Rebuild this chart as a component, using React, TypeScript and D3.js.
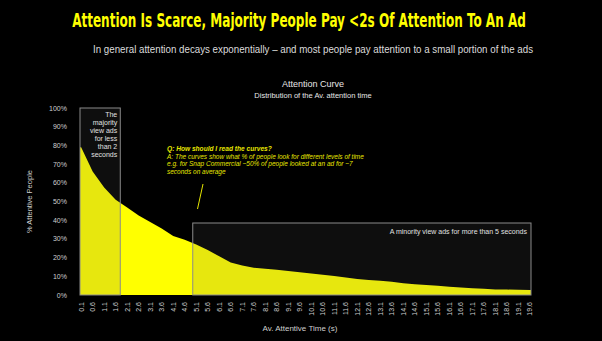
import React, { useLayoutEffect, useRef, useState } from "react";
import * as d3 from "d3";

const tickTimes = [
  0.1, 0.6, 1.1, 1.6, 2.1, 2.6, 3.1, 3.6, 4.1, 4.6,
  5.1, 5.6, 6.1, 6.6, 7.1, 7.6, 8.1, 8.6, 9.1, 9.6,
  10.1, 10.6, 11.1, 11.6, 12.1, 12.6, 13.1, 13.6, 14.1, 14.6,
  15.1, 15.6, 16.1, 16.6, 17.1, 17.6, 18.1, 18.6, 19.1, 19.6,
];
const attentive = [
  79, 66, 57.5, 51, 46.8, 42.5, 39, 35.5, 31.5, 29.5,
  27, 24, 20.7, 17.4, 15.8, 14.6, 14.1, 13.5, 12.9, 12.2,
  11.5, 10.8, 10.1, 9.4, 8.6, 8.0, 7.6, 7.1, 6.3, 5.8,
  5.4, 4.9, 4.4, 4.0, 3.6, 3.3, 3.0, 2.9, 2.8, 2.7,
];
const yTicks = [0, 10, 20, 30, 40, 50, 60, 70, 80, 90, 100];
const majorityBox = { from: 0.05, to: 1.8, top: 100 };
const minorityBox = { from: 4.95, to: 19.65, top: 38.5 };
const majorityLines = ["The", "majority", "view ads", "for less", "than 2", "seconds"];
const noteLines = [
  "A: The curves show what % of people look for different levels of time",
  "e.g. for Snap Commercial ~50% of people looked at an ad for ~7",
  "seconds on average",
];
const titleText = "Attention Is Scarce, Majority People Pay <2s Of Attention To An Ad";

const W = 602;
const H = 341;
const sans = "'Liberation Sans', Arial, Helvetica, sans-serif";
const TITLE_WIDTH = 454;

export default function App() {
  const titleRef = useRef<SVGTextElement>(null);
  const [titleScale, setTitleScale] = useState(0.66);

  useLayoutEffect(() => {
    const el = titleRef.current;
    if (el) {
      const w = el.getComputedTextLength();
      if (w > 0) setTitleScale(TITLE_WIDTH / w);
    }
  }, []);

  const x = d3.scaleLinear().domain([0.05, 19.65]).range([80, 531]);
  const y = d3.scaleLinear().domain([0, 100]).range([295, 108]);

  const pts = tickTimes.map((t, i) => ({ t, v: attentive[i] }));
  const areaData = [
    { t: x.domain()[0], v: attentive[0] },
    ...pts,
    { t: x.domain()[1], v: attentive[attentive.length - 1] },
  ];
  const area = d3
    .area<{ t: number; v: number }>()
    .x((d) => x(d.t))
    .y0(y(0))
    .y1((d) => y(d.v));

  const boxFill = "rgba(96,96,96,0.15)";
  const boxStroke = "#8a8a8a";

  return (
    <svg
      width={W}
      height={H}
      style={{ position: "absolute", left: 0, top: 0, background: "#000" }}
    >
      <rect x={0} y={0} width={W} height={H} fill="#000" />
      <g transform={`translate(299,27) scale(${titleScale},1)`}>
        <text
          ref={titleRef}
          x={0}
          y={0}
          textAnchor="middle"
          fill="#ffff00"
          fontFamily="'DejaVu Sans Condensed', 'DejaVu Sans', sans-serif"
          fontWeight="bold"
          fontSize={20}
        >
          {titleText}
        </text>
      </g>
      <text
        x={313}
        y={53}
        textAnchor="middle"
        fill="#dcdcdc"
        fontFamily={sans}
        fontSize={10.5}
        textLength={440}
        lengthAdjust="spacingAndGlyphs"
      >
        In general attention decays exponentially – and most people pay attention to a small portion of the ads
      </text>
      <text x={313} y={87} textAnchor="middle" fill="#e6e6e6" fontFamily={sans} fontSize={9}>
        Attention Curve
      </text>
      <text x={313} y={97.5} textAnchor="middle" fill="#e6e6e6" fontFamily={sans} fontSize={7.5}>
        Distribution of the Av. attention time
      </text>

      <path d={area(areaData) || ""} fill="#ffff00" />

      <rect
        x={x(majorityBox.from)}
        y={y(majorityBox.top)}
        width={x(majorityBox.to) - x(majorityBox.from)}
        height={y(0) - y(majorityBox.top)}
        fill={boxFill}
        stroke={boxStroke}
        strokeWidth={1}
      />
      <rect
        x={x(minorityBox.from)}
        y={y(minorityBox.top)}
        width={x(minorityBox.to) - x(minorityBox.from)}
        height={y(0) - y(minorityBox.top)}
        fill={boxFill}
        stroke={boxStroke}
        strokeWidth={1}
      />
      {majorityLines.map((l, i) => (
        <text
          key={l}
          x={x(majorityBox.to) - 3}
          y={116.5 + i * 8}
          textAnchor="end"
          fill="#e0e0e0"
          fontFamily={sans}
          fontSize={7}
        >
          {l}
        </text>
      ))}
      <text
        x={x(minorityBox.to) - 4}
        y={233.5}
        textAnchor="end"
        fill="#e0e0e0"
        fontFamily={sans}
        fontSize={7}
      >
        A minority view ads for more than 5 seconds
      </text>

      <text
        x={167}
        y={151}
        fill="#e6e600"
        fontFamily={sans}
        fontSize={6.6}
        fontStyle="italic"
        fontWeight="bold"
      >
        Q: How should I read the curves?
      </text>
      {noteLines.map((l, i) => (
        <text
          key={l}
          x={167}
          y={158.5 + i * 7.6}
          fill="#e6e600"
          fontFamily={sans}
          fontSize={6.5}
          fontStyle="italic"
        >
          {l}
        </text>
      ))}
      <line x1={203} y1={184} x2={197.5} y2={209} stroke="#e6e600" strokeWidth={1} />

      {yTicks.map((v) => (
        <text
          key={v}
          x={67}
          y={y(v) + 2.5}
          textAnchor="end"
          fill="#cfcfcf"
          fontFamily={sans}
          fontSize={7}
        >
          {v}%
        </text>
      ))}
      <text
        transform={`translate(32,${y(50)}) rotate(-90)`}
        textAnchor="middle"
        fill="#cfcfcf"
        fontFamily={sans}
        fontSize={7.5}
      >
        % Attentive People
      </text>

      {tickTimes.map((t) => (
        <text
          key={t}
          transform={`translate(${x(t) + 2.5},302) rotate(-90)`}
          textAnchor="end"
          fill="#cfcfcf"
          fontFamily={sans}
          fontSize={7}
        >
          {t}
        </text>
      ))}
      <text x={300} y={331} textAnchor="middle" fill="#cfcfcf" fontFamily={sans} fontSize={8}>
        Av. Attentive Time (s)
      </text>
    </svg>
  );
}
